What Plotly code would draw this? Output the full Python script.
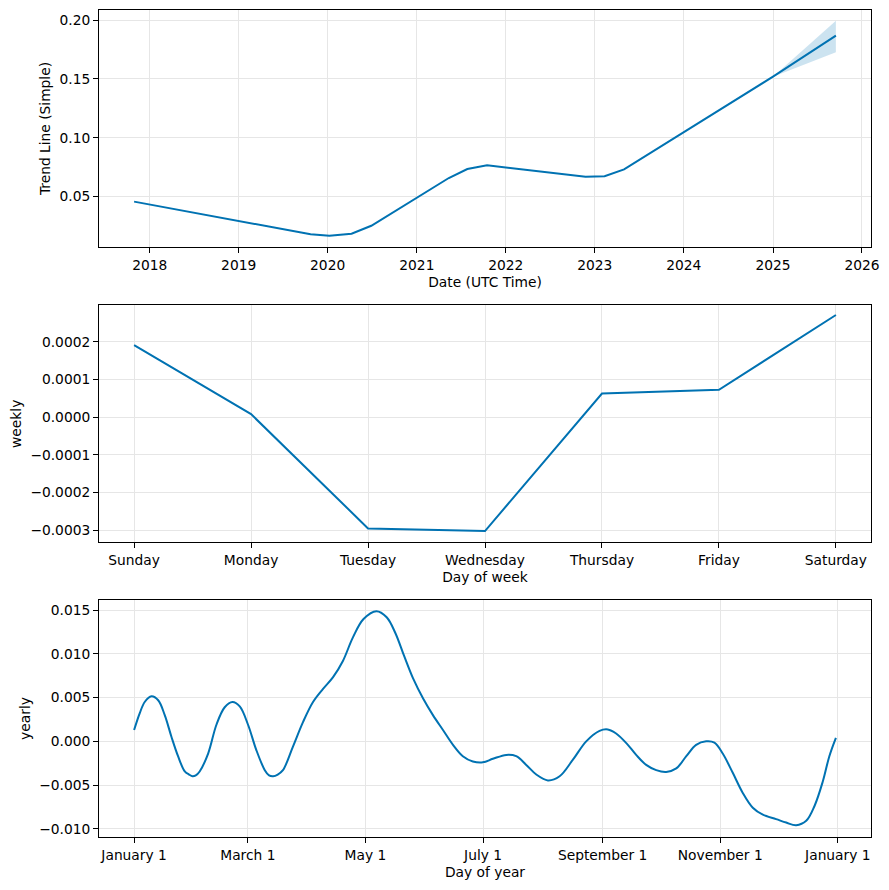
import pandas as pd
import plotly.graph_objects as go

BLUE = "#0072B2"
BAND = "rgba(0,114,178,0.2)"
GRID = "#e6e6e6"
FONT = "DejaVu Sans"
FS = 13.8

# ---- Trend ----
trend_dates = ["2017-10-29", "2019-10-23", "2020-01-08", "2020-04-08", "2020-06-28",
               "2021-05-12", "2021-07-27", "2021-10-16", "2022-11-24", "2023-02-10",
               "2023-05-01", "2025-01-01", "2025-09-16"]
trend_values = [0.0455, 0.0176, 0.0164, 0.0181, 0.0249,
                0.0656, 0.0733, 0.0764, 0.0666, 0.0671,
                0.0729, 0.1520, 0.1869]
band_dates = ["2025-01-01", "2025-09-16"]
band_upper = [0.1520, 0.1996]
band_lower = [0.1520, 0.1728]
trend_ticks = [str(y) for y in range(2018, 2027)]
trend_yticks = [0.05, 0.10, 0.15, 0.20]
trend_yticklabels = ["0.05", "0.10", "0.15", "0.20"]

# ---- Weekly ----
week_days = ["Sunday", "Monday", "Tuesday", "Wednesday", "Thursday", "Friday", "Saturday"]
weekly_values = [0.000191, 0.000008, -0.000295, -0.000302, 0.0000627, 0.0000725, 0.000271]
weekly_yticks = [-0.0003, -0.0002, -0.0001, 0.0, 0.0001, 0.0002]
weekly_yticklabels = ["\u22120.0003", "\u22120.0002", "\u22120.0001", "0.0000", "0.0001", "0.0002"]

# ---- Yearly ----
yearly_days = [0, 2.9, 5.5, 9, 12.5, 15.9, 19.4, 22.8, 26.3, 28.5, 30.3, 32, 34, 38.4, 42.7,
               47, 51, 54.8, 59.1, 63.4, 67.8, 70, 72.1, 74.5, 77.2, 82.4, 87.6, 92.8, 98,
               103.2, 108.3, 113.5, 119, 125.7, 131, 135.5, 140, 144.7, 149.9, 155, 160.2,
               165.4, 170.5, 175.7, 180.9, 186.1, 193, 198.2, 203.4, 208.6, 214.6, 220.7,
               227.6, 234.5, 241.4, 245.7, 250, 255.3, 260.4, 265.6, 270.8, 276, 281.2,
               286.4, 291.5, 296.7, 301, 305.3, 310.5, 315.7, 320.9, 326.1, 333, 338.2,
               343.4, 348.6, 352.9, 357.2, 360.6, 364]
yearly_values = [0.00129, 0.0032, 0.0045, 0.00515, 0.0047, 0.0030, 0.0005, -0.0017, -0.00345,
                 -0.0038, -0.0040, -0.0039, -0.00345, -0.0014, 0.0019,
                 0.0039, 0.0045, 0.0040, 0.0019, -0.0010, -0.0033, -0.0039, -0.0040,
                 -0.0038, -0.0033, -0.0006, 0.0022, 0.0045, 0.0060,
                 0.00735, 0.0092, 0.0119, 0.0140, 0.01490, 0.0142, 0.0124, 0.0098, 0.0072,
                 0.0049, 0.0030, 0.0013,
                 -0.0004, -0.0017, -0.0023, -0.0024, -0.0020, -0.00155, -0.0017, -0.0027,
                 -0.0038, -0.00447, -0.0040,
                 -0.0021, 0.0, 0.0012, 0.00136, 0.0009, -0.0002, -0.00155, -0.0027, -0.0033,
                 -0.0035, -0.0031,
                 -0.0017, -0.0004, 0.0, -0.00015, -0.0014, -0.0036, -0.0059, -0.0076,
                 -0.0084, -0.0089, -0.0093,
                 -0.0096, -0.0091, -0.0074, -0.0046, -0.0017, 0.0004]
yearly_tickdates = ["2017-01-01", "2017-03-01", "2017-05-01", "2017-07-01",
                    "2017-09-01", "2017-11-01", "2018-01-01"]
yearly_ticklabels = ["January 1", "March 1", "May 1", "July 1",
                     "September 1", "November 1", "January 1"]
yearly_yticks = [-0.010, -0.005, 0.0, 0.005, 0.010, 0.015]
yearly_yticklabels = ["\u22120.010", "\u22120.005", "0.000", "0.005", "0.010", "0.015"]

base = pd.Timestamp("2017-01-01")
yearly_x = [base + pd.Timedelta(days=d) for d in yearly_days]

fig = go.Figure()

# trend band
fig.add_trace(go.Scatter(x=band_dates, y=band_upper, mode="lines", line=dict(width=0),
                         showlegend=False, hoverinfo="skip", xaxis="x", yaxis="y"))
fig.add_trace(go.Scatter(x=band_dates, y=band_lower, mode="lines", line=dict(width=0),
                         fill="tonexty", fillcolor=BAND, showlegend=False,
                         hoverinfo="skip", xaxis="x", yaxis="y"))
fig.add_trace(go.Scatter(x=trend_dates, y=trend_values, mode="lines",
                         line=dict(color=BLUE, width=2), showlegend=False,
                         xaxis="x", yaxis="y"))
fig.add_trace(go.Scatter(x=list(range(len(week_days))), y=weekly_values, mode="lines",
                         line=dict(color=BLUE, width=2), showlegend=False,
                         xaxis="x2", yaxis="y2"))
fig.add_trace(go.Scatter(x=yearly_x, y=yearly_values, mode="lines",
                         line=dict(color=BLUE, width=2, shape="spline", smoothing=1.0),
                         showlegend=False, xaxis="x3", yaxis="y3"))

common = dict(showline=True, linecolor="black", linewidth=1, mirror=True,
              ticks="outside", ticklen=5, tickcolor="black", tickwidth=1,
              showgrid=True, gridcolor=GRID, gridwidth=1, zeroline=False,
              tickfont=dict(family=FONT, size=FS, color="black"))

def title(t):
    return dict(text=t, font=dict(family=FONT, size=FS, color="black"), standoff=5)

fig.update_layout(
    width=873, height=874,
    margin=dict(l=91, r=10, t=2, b=45),
    paper_bgcolor="white", plot_bgcolor="white",
    font=dict(family=FONT, size=FS, color="black"),
    xaxis=dict(domain=[0, 1], anchor="y", type="date",
               range=["2017-06-07", "2026-02-07"],
               tickvals=[t + "-01-01" for t in trend_ticks], ticktext=trend_ticks,
               title=title("Date (UTC Time)"), **common),
    yaxis=dict(domain=[0.7134, 1.0], anchor="x", range=[0.0068, 0.2088],
               tickvals=trend_yticks, ticktext=trend_yticklabels,
               title=title("Trend Line (Simple)"), **common),
    xaxis2=dict(domain=[0, 1], anchor="y2", range=[-0.3, 6.3],
                tickvals=list(range(len(week_days))), ticktext=week_days,
                title=title("Day of week"), **common),
    yaxis2=dict(domain=[0.3563, 0.6429], anchor="x2", range=[-0.000332, 0.0002966],
                tickvals=weekly_yticks, ticktext=weekly_yticklabels,
                title=title("weekly"), **common),
    xaxis3=dict(domain=[0, 1], anchor="y3", type="date",
                range=[base - pd.Timedelta(days=18.2), base + pd.Timedelta(days=364 + 18.2)],
                tickvals=yearly_tickdates, ticktext=yearly_ticklabels,
                title=title("Day of year"), **common),
    yaxis3=dict(domain=[0.0, 0.2866], anchor="x3", range=[-0.01095, 0.01618],
                tickvals=yearly_yticks, ticktext=yearly_yticklabels,
                title=title("yearly"), **common),
)

fig.write_html("out.html")
